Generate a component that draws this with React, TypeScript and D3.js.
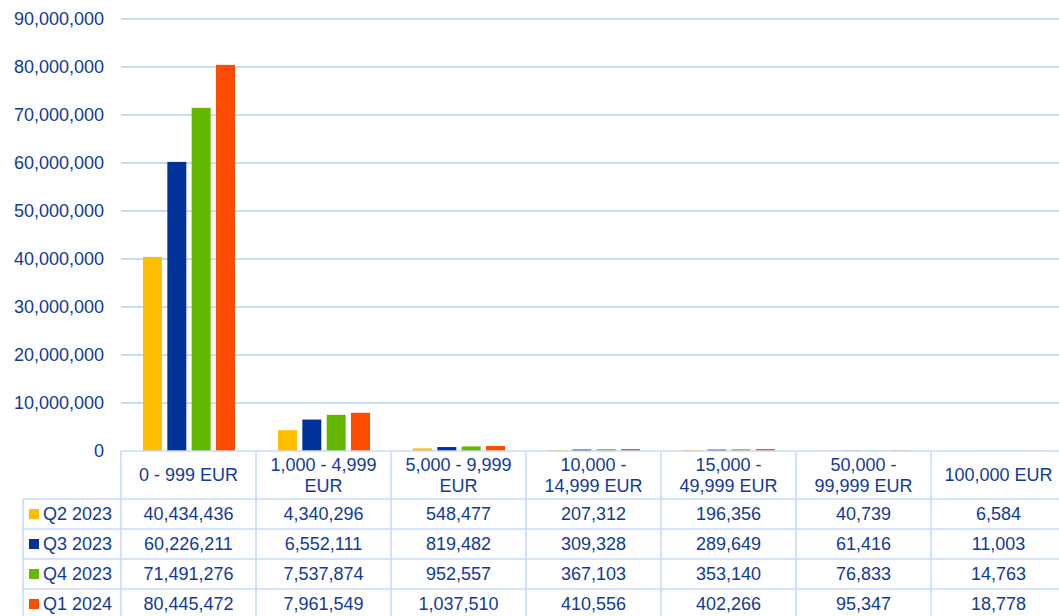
import * as d3 from "d3";

const categories = [
  ["0 - 999 EUR"],
  ["1,000 - 4,999", "EUR"],
  ["5,000 - 9,999", "EUR"],
  ["10,000 -", "14,999 EUR"],
  ["15,000 -", "49,999 EUR"],
  ["50,000 -", "99,999 EUR"],
  ["100,000 EUR"],
];
const seriesNames = ["Q2 2023", "Q3 2023", "Q4 2023", "Q1 2024"];
const seriesColors = ["#FFBF00", "#003299", "#65B800", "#FF4B00"];
const q2_2023 = [40434436, 4340296, 548477, 207312, 196356, 40739, 6584];
const q3_2023 = [60226211, 6552111, 819482, 309328, 289649, 61416, 11003];
const q4_2023 = [71491276, 7537874, 952557, 367103, 353140, 76833, 14763];
const q1_2024 = [80445472, 7961549, 1037510, 410556, 402266, 95347, 18778];
const seriesValues = [q2_2023, q3_2023, q4_2023, q1_2024];
const yTicks = [0, 10e6, 20e6, 30e6, 40e6, 50e6, 60e6, 70e6, 80e6, 90e6];

const W = 1059;
const H = 616;
const TEXT = "#12399a";
const GRID = "#b9cff8";
const TABLE = "#c9daf9";
const FONT = "'Liberation Sans', Arial, sans-serif";
const FS = 18;

export default function App() {
  const left = 121;
  const colW = 135;
  const zeroY = 451;
  const headerBottom = 499;
  const rowH = 30;
  const legendLeft = 23;

  const x = d3
    .scaleBand<number>()
    .domain(categories.map((_, i) => i))
    .range([left, left + colW * categories.length]);
  const xs = d3
    .scaleBand<number>()
    .domain(seriesNames.map((_, i) => i))
    .range([22, 114])
    .paddingInner(0.22);
  const y = d3.scaleLinear().domain([0, 90e6]).range([zeroY, 19]);
  const fmt = d3.format(",");
  const right = x.range()[1];

  return (
    <svg
      width={W}
      height={H}
      style={{ position: "absolute", left: 0, top: 0, background: "#fff" }}
      fontFamily={FONT}
    >
      {/* grid + y labels */}
      {yTicks.map((t) => (
        <g key={t}>
          {t > 0 && (
            <line x1={left} x2={W} y1={y(t)} y2={y(t)} stroke={GRID} strokeWidth={1.6} />
          )}
          <text x={104} y={y(t)} dy="0.35em" textAnchor="end" fontSize={FS} fill={TEXT}>
            {fmt(t)}
          </text>
        </g>
      ))}

      {/* bars */}
      {categories.map((_, ci) =>
        seriesValues.map((vals, si) => (
          <rect
            key={ci + "-" + si}
            x={(x(ci) as number) + (xs(si) as number)}
            y={y(vals[ci])}
            width={xs.bandwidth()}
            height={zeroY - y(vals[ci])}
            fill={seriesColors[si]}
          />
        ))
      )}

      {/* table lines */}
      <line x1={left} x2={right} y1={zeroY} y2={zeroY} stroke={TABLE} strokeWidth={1.6} />
      {seriesNames.map((_, si) => (
        <line
          key={"h" + si}
          x1={legendLeft}
          x2={right}
          y1={headerBottom + si * rowH}
          y2={headerBottom + si * rowH}
          stroke={TABLE}
          strokeWidth={1.6}
        />
      ))}
      <line x1={legendLeft} x2={legendLeft} y1={headerBottom} y2={H} stroke={TABLE} strokeWidth={1.6} />
      {categories.map((_, ci) => (
        <line
          key={"v" + ci}
          x1={x(ci) as number}
          x2={x(ci) as number}
          y1={zeroY}
          y2={H}
          stroke={TABLE}
          strokeWidth={1.6}
        />
      ))}

      {/* header */}
      {categories.map((lines, ci) => {
        const cx = (x(ci) as number) + colW / 2;
        const cy = (zeroY + headerBottom) / 2;
        return (
          <text key={"c" + ci} textAnchor="middle" fontSize={FS} fill={TEXT}>
            {lines.map((l, li) => (
              <tspan key={li} x={cx} y={cy + (li - (lines.length - 1) / 2) * 21} dy="0.35em">
                {l}
              </tspan>
            ))}
          </text>
        );
      })}

      {/* rows */}
      {seriesNames.map((name, si) => {
        const cy = headerBottom + si * rowH + rowH / 2;
        return (
          <g key={name}>
            <rect x={29} y={cy - 5} width={10} height={10} fill={seriesColors[si]} />
            <text x={43} y={cy} dy="0.35em" fontSize={FS} fill={TEXT}>
              {name}
            </text>
            {seriesValues[si].map((v, ci) => (
              <text
                key={ci}
                x={(x(ci) as number) + colW / 2}
                y={cy}
                dy="0.35em"
                textAnchor="middle"
                fontSize={FS}
                fill={TEXT}
              >
                {fmt(v)}
              </text>
            ))}
          </g>
        );
      })}
    </svg>
  );
}
